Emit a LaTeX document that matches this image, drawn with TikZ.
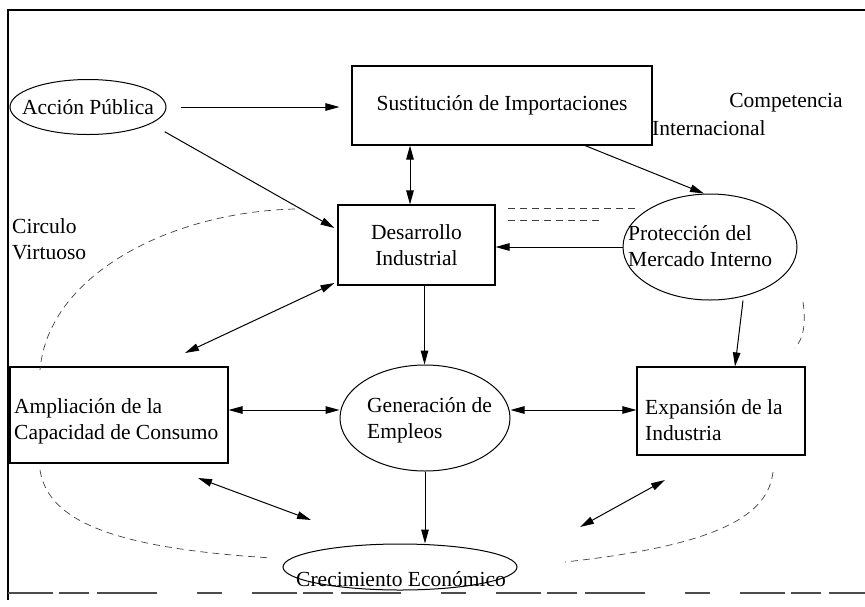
\documentclass[tikz,border=0pt]{standalone}
\usepackage{fontspec}
\setmainfont{Liberation Serif}
\usetikzlibrary{arrows.meta,shapes.geometric}
\begin{document}
\begin{tikzpicture}[x=1pt,y=-1pt,
  font=\fontsize{21.5}{26}\selectfont,
  ln/.style={line width=1pt},
  ar/.style={ln,-{Triangle[length=14pt,width=7.5pt]}},
  dar/.style={ln,{Triangle[length=14pt,width=7.5pt]}-{Triangle[length=14pt,width=7.5pt]}},
  vc/.style={line width=0.7pt, black!75, dash pattern=on 7pt off 5pt},
  bx/.style={draw, line width=1.1pt, inner sep=0pt},
  el/.style={draw, ellipse, line width=1pt, inner sep=0pt},
  tx/.style={inner sep=0pt, align=left}]
\useasboundingbox (0,0) rectangle (865,606);
% frame
\draw[line width=1.5pt] (8,600) -- (8,10) -- (865,10);
\draw[line width=2.5pt, black!70, dash pattern=on 45pt off 6pt on 30pt off 8pt on 60pt off 40pt on 25pt off 30pt] (8,593) -- (865,593);
% nodes
\node[el, minimum width=156pt, minimum height=55pt] (acc) at (88,107) {};
\node (acct) at (acc) {Acción Pública};
\node[bx, minimum width=300pt, minimum height=79pt] (sus) at (502,105.5) {Sustitución de Importaciones};
\node[tx] (comp) at (786,103) {Competencia};
\node[tx, anchor=west] (inter) at (652,128) {Internacional};
\node[bx, minimum width=157pt, minimum height=80pt, align=center] (des) at (416.5,245) {Desarrollo\\Industrial};
\node[el, minimum width=174pt, minimum height=106pt] (pro) at (710,247) {};
\node[tx, anchor=west] (prot) at (628,246) {Protección del\\Mercado Interno};
\node[tx, anchor=west] (circ) at (12,239) {Circulo\\Virtuoso};
\node[bx, minimum width=218pt, minimum height=96pt] (amp) at (119,415) {};
\node[tx, anchor=west] (ampt) at (14,421) {Ampliación de la\\Capacidad de Consumo};
\node[el, minimum width=170pt, minimum height=106pt] (gen) at (425,418) {};
\node[tx, anchor=west] (gent) at (367,420) {Generación de\\Empleos};
\node[bx, minimum width=168pt, minimum height=88pt] (exp) at (721,411) {};
\node[tx, anchor=west] (expt) at (645,420) {Expansión de la\\Industria};
\node[el, minimum width=234pt, minimum height=46pt] (crec) at (400,567) {};
\node (crect) at (401,579) {Crecimiento Económico};
% free ends
\coordinate (dl) at (185,353);
\coordinate (al) at (198,478);
\coordinate (cl) at (311,520);
\coordinate (er) at (665,480);
\coordinate (cr) at (580,527);
% connectors
\draw[ar, shorten <=14pt, shorten >=12pt] (acc.east) -- (acc.east -| sus.west);
\draw[ar, shorten <=16pt] (acc.-15) -- ([shift={(-3,-17)}]des.west);
\draw[dar] ([xshift=-6.5pt]des.north) -- ([xshift=-6.5pt]des.north |- sus.south);
\draw[ar] ([xshift=83pt]sus.south) -- ([xshift=-6pt]pro.north);
\draw[ar] (pro.west) -- (pro.west -| des.east);
\draw[dar] ([shift={(-3,38)}]des.west) -- (dl);
\draw[ar] ([xshift=8pt]des.south) -- ([xshift=8pt]des.south |- gen.north);
\draw[ar] ([xshift=33pt]pro.south) -- ([xshift=14pt]exp.north);
\draw[dar] ([yshift=5pt]amp.east) -- ([yshift=5pt]amp.east -| gen.west);
\draw[dar] ([yshift=8pt]gen.east) -- ([yshift=8pt]gen.east -| exp.west);
\draw[dar] (al) -- (cl);
\draw[ar] (gen.south) -- (crec.north -| gen.south);
\draw[dar] (er) -- (cr);
% virtuous circle (dashed)
\draw[vc] (295,209) .. controls (170,212) and (48,275) .. (40,370);
\draw[vc] (508,208) -- (640,208);
\draw[vc] (508,220) -- (600,220);
\draw[vc] (803,302) .. controls (806,322) and (804,338) .. (795,348);
\draw[vc] (40,470) .. controls (48,520) and (110,548) .. (272,558);
\draw[vc] (773,472) .. controls (768,515) and (720,545) .. (565,562);
\end{tikzpicture}
\end{document}
